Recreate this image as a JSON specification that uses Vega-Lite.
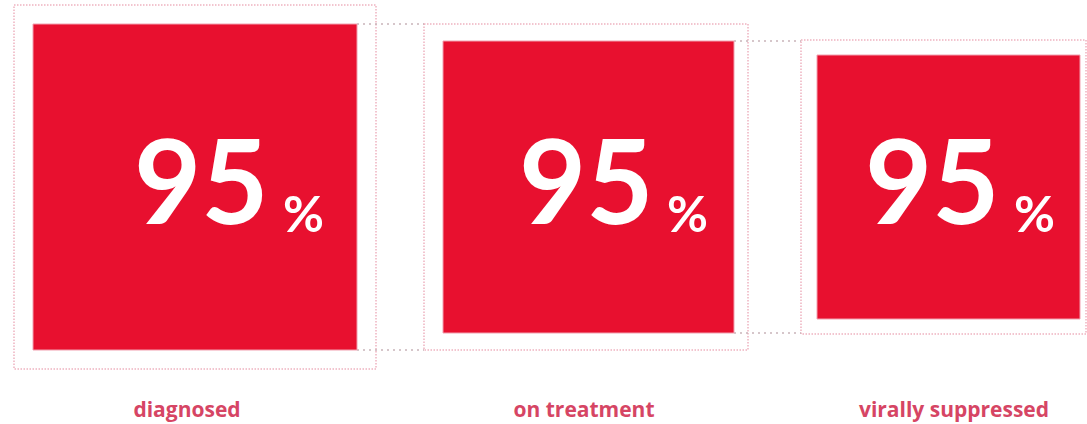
{
  "$schema": "https://vega.github.io/schema/vega-lite/v6.json",
  "width": 1087,
  "height": 424,
  "autosize": {"type": "fit", "contains": "padding"},
  "padding": 0,
  "background": "white",
  "config": {"view": {"stroke": null}},
  "encoding": {
    "x": {"type": "quantitative", "scale": {"domain": [0, 1087], "nice": false, "zero": false}, "axis": null},
    "y": {"type": "quantitative", "scale": {"domain": [0, 424], "nice": false, "zero": false, "reverse": true}, "axis": null}
  },
  "layer": [
    {
      "data": {"values": [
        {"x": 14, "x2": 376, "y": 5, "y2": 369},
        {"x": 424, "x2": 748, "y": 24, "y2": 350},
        {"x": 801, "x2": 1086, "y": 40, "y2": 334}
      ]},
      "mark": {"type": "rect", "fill": null, "stroke": "#eeb3c0", "strokeWidth": 1.5, "strokeDash": [1.5, 1.5]},
      "encoding": {"x": {"field": "x"}, "x2": {"field": "x2"}, "y": {"field": "y"}, "y2": {"field": "y2"}}
    },
    {
      "data": {"values": [
        {"x": 357, "x2": 424, "y": 24},
        {"x": 357, "x2": 424, "y": 350},
        {"x": 734, "x2": 801, "y": 41},
        {"x": 734, "x2": 801, "y": 333}
      ]},
      "mark": {"type": "rule", "stroke": "#c9b4b9", "strokeWidth": 1.5, "strokeDash": [2, 4]},
      "encoding": {"x": {"field": "x"}, "x2": {"field": "x2"}, "y": {"field": "y"}}
    },
    {
      "data": {"values": [
        {"x": 33, "x2": 357, "y": 24, "y2": 350},
        {"x": 443, "x2": 734, "y": 41, "y2": 333},
        {"x": 817, "x2": 1080, "y": 55, "y2": 319}
      ]},
      "mark": {"type": "rect", "fill": "#e8102f", "stroke": "#f1a0b0", "strokeWidth": 1},
      "encoding": {"x": {"field": "x"}, "x2": {"field": "x2"}, "y": {"field": "y"}, "y2": {"field": "y2"}}
    },
    {
      "data": {"values": [
        {"x": 134, "y": 224, "t": "95"},
        {"x": 519, "y": 224, "t": "95"},
        {"x": 865, "y": 224, "t": "95"}
      ]},
      "mark": {"type": "text", "align": "left", "baseline": "alphabetic", "font": "Lato", "fontSize": 116, "fontWeight": "bold", "fill": "white"},
      "encoding": {"x": {"field": "x"}, "y": {"field": "y"}, "text": {"field": "t"}}
    },
    {
      "data": {"values": [
        {"x": 283, "y": 232, "t": "%"},
        {"x": 667, "y": 232, "t": "%"},
        {"x": 1014, "y": 232, "t": "%"}
      ]},
      "mark": {"type": "text", "align": "left", "baseline": "alphabetic", "font": "Lato", "fontSize": 50, "fontWeight": "bold", "fill": "white"},
      "encoding": {"x": {"field": "x"}, "y": {"field": "y"}, "text": {"field": "t"}}
    },
    {
      "data": {"values": [
        {"x": 187, "y": 417, "t": "diagnosed"},
        {"x": 584, "y": 417, "t": "on treatment"},
        {"x": 954, "y": 417, "t": "virally suppressed"}
      ]},
      "mark": {"type": "text", "align": "center", "baseline": "alphabetic", "font": "Open Sans", "fontSize": 21, "fontWeight": "bold", "fill": "#d64564"},
      "encoding": {"x": {"field": "x"}, "y": {"field": "y"}, "text": {"field": "t"}}
    }
  ]
}
